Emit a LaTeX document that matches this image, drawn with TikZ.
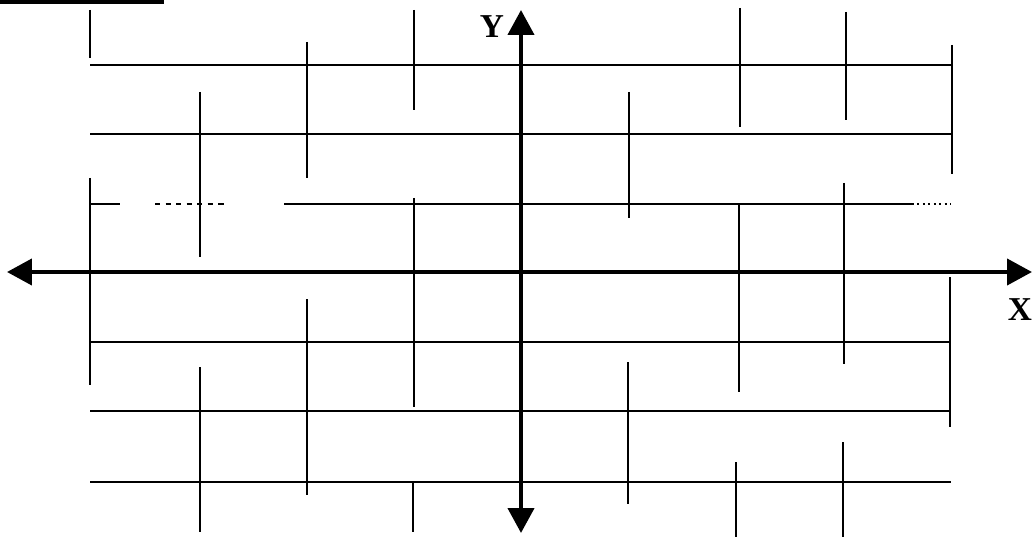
\documentclass[tikz,border=0pt]{standalone}
\usepackage{fontspec}
\setmainfont{Liberation Serif}
\usetikzlibrary{arrows.meta}

\begin{document}
\begin{tikzpicture}[x=0.02cm,y=-0.02cm,
			grid line/.style={line width=1.1pt},
			axis line/.style={line width=2.4pt,
				{Triangle[length=0.5cm,width=0.52cm]}-{Triangle[length=0.5cm,width=0.52cm]}},
			axis label/.style={font=\bfseries\fontsize{19}{19}\selectfont,inner sep=0pt}]
			
			\useasboundingbox (0,0) rectangle (1032,537);
			
			% bar at the top left
			\draw[line width=1.8pt] (0,2) -- (164,2);
			
			% rows of the grid
			\foreach \y in {65,134,342,411,482}
				\draw[grid line] (90,\y) -- (951,\y);
			\draw[grid line] (90,204) -- (120,204);
			\draw[grid line,dashed] (155,204) -- (228,204);
			\draw[grid line] (284,204) -- (912,204);
			\draw[grid line,dotted] (912,204) -- (951,204);
			
			% broken columns
			\foreach \x/\ya/\yb in {90/10/58,90/178/385,200/92/257,200/367/532,
				307/42/178,307/299/495,414/10/110,414/198/407,413/482/532,
				629/92/218,628/362/504,740/8/127,739/205/392,736/462/537,
				846/12/120,844/183/364,843/442/537,952/45/174,950/277/427}
				\draw[grid line] (\x,\ya) -- (\x,\yb);
			
			% axes
			\coordinate (Xl) at (7,272);
			\coordinate (Xr) at (1032,272);
			\coordinate (Yt) at (521,10);
			\coordinate (Yb) at (521,533);
			\draw[axis line] (Xl) -- (Xr);
			\draw[axis line] (Yb) -- (Yt);
			
			\node[axis label] (Ylab) at (492,27) {Y};
			\node[axis label] (Xlab) at (1020,310) {X};
			\end{tikzpicture}
\end{document}
